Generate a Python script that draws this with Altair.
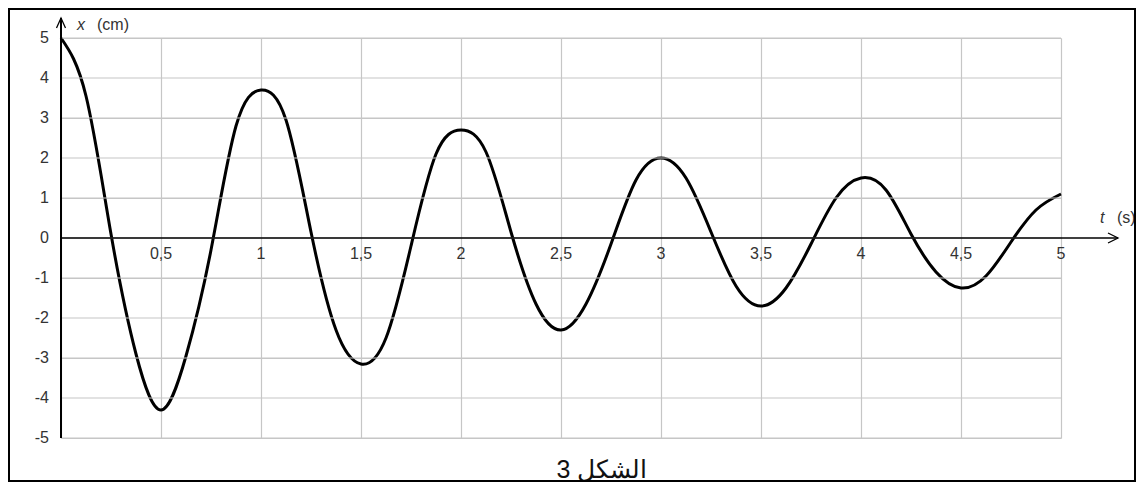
import altair as alt
import pandas as pd

# ---- data ----
t_s = [0, 0.125, 0.25, 0.375, 0.5, 0.625, 0.75, 0.875,
       1.0, 1.125, 1.25, 1.375, 1.5, 1.625, 1.75, 1.875,
       2.0, 2.125, 2.25, 2.375, 2.5, 2.625, 2.75, 2.875,
       3.0, 3.125, 3.25, 3.375, 3.5, 3.625, 3.75, 3.875,
       4.0, 4.125, 4.25, 4.375, 4.5, 4.625, 4.75, 4.875, 5.0]
x_cm = [5.0, 3.55, 0.1, -2.9, -4.3, -2.95, -0.3, 2.8,
        3.7, 2.95, 0.15, -2.3, -3.15, -2.5, -0.2, 2.1,
        2.7, 2.15, 0.15, -1.65, -2.3, -1.65, -0.15, 1.45,
        2.0, 1.5, 0.15, -1.2, -1.7, -1.25, -0.15, 1.0,
        1.5, 1.2, 0.1, -0.85, -1.25, -0.95, -0.1, 0.7, 1.1]

x_ticks = [0.5, 1, 1.5, 2, 2.5, 3, 3.5, 4, 4.5, 5]
x_tick_labels = ["0,5", "1", "1,5", "2", "2,5", "3", "3,5", "4", "4,5", "5"]
x_grid = [0, 0.5, 1, 1.5, 2, 2.5, 3, 3.5, 4, 4.5, 5]
y_ticks = [-5, -4, -3, -2, -1, 0, 1, 2, 3, 4, 5]
y_tick_labels = ["-5", "-4", "-3", "-2", "-1", "0", "1", "2", "3", "4", "5"]

FONT = "Liberation Sans"
GRID = "#c6c6c6"
TXT = "#333333"

curve = pd.DataFrame({"t": t_s, "x": x_cm})
xticks = pd.DataFrame({"t": x_ticks, "lab": x_tick_labels})
yticks = pd.DataFrame({"v": y_ticks, "lab": y_tick_labels})
hgrid = pd.DataFrame({"g": y_ticks})

xs = alt.Scale(domain=[0, 5], nice=False, zero=False)
ys = alt.Scale(domain=[-5, 5], nice=False, zero=False)

base_x = alt.X("t:Q", scale=xs,
               axis=alt.Axis(values=x_grid, labels=False, ticks=False, domain=False,
                             grid=True, gridColor=GRID, gridWidth=1.2, title=None))
base_y = alt.Y("x:Q", scale=ys,
               axis=alt.Axis(values=y_ticks, labels=False, ticks=False, domain=False,
                             grid=True, gridColor=GRID, gridWidth=1.2, title=None))

line = alt.Chart(curve).mark_line(color="black", strokeWidth=3,
                                  interpolate="natural").encode(x=base_x, y=base_y)

# horizontal grid lines every 1 cm (rule with only y spans the plot width)
grid_h = alt.Chart(hgrid).mark_rule(color=GRID, strokeWidth=1.2).encode(
    y=alt.Y("g:Q", scale=ys))

# axes lines through the origin
x_axis = alt.Chart(pd.DataFrame({"a": [0], "b": [5.285]})).mark_rule(
    color="black", strokeWidth=1.5).encode(
    x=alt.X("a:Q", scale=xs), x2="b:Q", y=alt.datum(0))
y_axis = alt.Chart(pd.DataFrame({"a": [-5], "b": [5.5]})).mark_rule(
    color="black", strokeWidth=2).encode(
    y=alt.Y("a:Q", scale=ys), y2="b:Q", x=alt.datum(0))

arrow_x = alt.Chart(pd.DataFrame({"p": [5.285]})).mark_point(
    shape="M-1,-0.5L0,0L-1,0.5", size=400, filled=False, color="black",
    strokeWidth=1.3, opacity=1).encode(x=alt.X("p:Q", scale=xs), y=alt.datum(0))
arrow_y = alt.Chart(pd.DataFrame({"p": [5.5]})).mark_point(
    shape="M-0.45,1L0,0L0.45,1", size=400, filled=False, color="black",
    strokeWidth=1.3, opacity=1).encode(y=alt.Y("p:Q", scale=ys), x=alt.datum(0))

xtick_text = alt.Chart(xticks).mark_text(
    font=FONT, fontSize=16, color=TXT, align="center", baseline="middle", dy=16).encode(
    x=alt.X("t:Q", scale=xs), y=alt.datum(0), text="lab:N")
ytick_text = alt.Chart(yticks).mark_text(
    font=FONT, fontSize=16, color=TXT, align="right", baseline="middle", dx=-12).encode(
    y=alt.Y("v:Q", scale=ys), x=alt.datum(0), text="lab:N")

def label(txt, px, py, italic=False, size=16, align="left", color=TXT):
    return alt.Chart(pd.DataFrame({"s": [txt]})).mark_text(
        font=FONT, fontSize=size, color=color, align=align, baseline="middle",
        fontStyle="italic" if italic else "normal").encode(
        x=alt.value(px), y=alt.value(py), text="s:N")

lab_x = label("x", 16, -13, italic=True)
lab_cm = label("(cm)", 36, -13)
lab_t = label("t", 1039, 180, italic=True)
lab_s = label("(s)", 1056, 180)
title = label("الشكل 3", 541, 432, size=25, align="center", color="#111111")

frame = alt.Chart(pd.DataFrame({"k": [0]})).mark_rect(
    fill=None, stroke="black", strokeWidth=2).encode(
    x=alt.value(-52), x2=alt.value(1074), y=alt.value(-29), y2=alt.value(443))

chart = alt.layer(line, grid_h, x_axis, y_axis, arrow_x, arrow_y, xtick_text,
                  ytick_text, lab_x, lab_cm, lab_t, lab_s, title, frame).properties(
    width=1000, height=400,
    padding={"left": 53, "top": 30, "right": 76, "bottom": 44},
    autosize=alt.AutoSizeParams(type="none"),
    background="white",
).configure_view(stroke=None).configure_axis(
    labels=False, ticks=False, domain=False, grid=True,
    gridColor=GRID, gridWidth=1.2)

chart.save("out.html", embed_options={"renderer": "svg", "actions": False})
